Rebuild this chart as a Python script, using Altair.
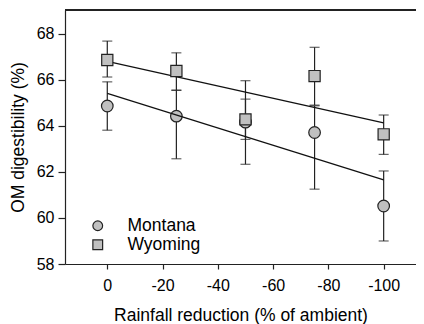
import altair as alt
import pandas as pd

reduction = [0, -25, -50, -75, -100]
montana_mean = [64.86, 64.42, 64.16, 63.71, 60.52]
montana_lo = [63.81, 62.57, 62.33, 61.25, 59.00]
montana_hi = [65.91, 65.55, 65.16, 64.87, 62.04]
wyoming_mean = [66.86, 66.38, 64.28, 66.16, 63.63]
wyoming_lo = [66.12, 65.54, 63.41, 64.90, 62.76]
wyoming_hi = [67.68, 67.17, 65.96, 67.41, 64.47]
x_ticks = [0, -20, -40, -60, -80, -100]
y_ticks = [58, 60, 62, 64, 66, 68]
sites = ["Montana", "Wyoming"]

rows = []
for site, m, lo, hi in [("Montana", montana_mean, montana_lo, montana_hi),
                        ("Wyoming", wyoming_mean, wyoming_lo, wyoming_hi)]:
    for x, a, b, c in zip(reduction, m, lo, hi):
        rows.append({"site": site, "x": x, "y": a, "lo": b, "hi": c})
df = pd.DataFrame(rows)

W, H = 351, 254
FONT = "Liberation Sans"

xscale = alt.Scale(domain=[-111.7, 15.3], reverse=True, nice=False, zero=False)
yscale = alt.Scale(domain=[58, 69.03], nice=False, zero=False)

xaxis = alt.Axis(values=x_ticks, title="Rainfall reduction (% of ambient)", grid=False,
                 tickSize=5, labelPadding=8, titlePadding=13, labelFontSize=16,
                 titleFontSize=17.5, format="d", titleFontWeight="normal",
                 labelExpr="replace(datum.label, '\u2212', '-')")
yaxis = alt.Axis(values=y_ticks, title="OM digestibility (%)", grid=False,
                 tickSize=7, labelPadding=4, titlePadding=9, labelFontSize=16,
                 titleFontSize=17.5, titleFontWeight="normal")

base = alt.Chart(df)
X = alt.X("x:Q", scale=xscale, axis=xaxis)

err = base.mark_rule(color="#222222", strokeWidth=1.2).encode(
    x=X, y=alt.Y("lo:Q", scale=yscale, axis=yaxis), y2="hi:Q")
cap_lo = base.mark_tick(color="#222222", thickness=1.2, size=10, orient="horizontal").encode(
    x="x:Q", y=alt.Y("lo:Q"))
cap_hi = base.mark_tick(color="#222222", thickness=1.2, size=10, orient="horizontal").encode(
    x="x:Q", y=alt.Y("hi:Q"))

leg = alt.Legend(title=None, orient="none", legendX=24, legendY=207,
                 symbolStrokeWidth=1.2, symbolSize=95, symbolOpacity=1,
                 labelFontSize=17.5, labelOffset=21, rowPadding=0,
                 labelColor="black", labelFont=FONT)
shape = alt.Shape("site:N", scale=alt.Scale(domain=sites, range=["circle", "square"]), legend=leg)
fill = alt.Fill("site:N", scale=alt.Scale(domain=sites, range=["#c0c0c0", "#c0c0c0"]), legend=leg)
stroke = alt.Stroke("site:N", scale=alt.Scale(domain=sites, range=["#222222", "#222222"]), legend=leg)

pts_m = base.transform_filter(alt.datum.site == "Montana").mark_point(
    filled=True, strokeWidth=1.2, opacity=1, fillOpacity=1, size=135).encode(
    x="x:Q", y="y:Q", shape=shape, fill=fill, stroke=stroke)
pts_w = base.transform_filter(alt.datum.site == "Wyoming").mark_point(
    filled=True, strokeWidth=1.2, opacity=1, fillOpacity=1, size=125).encode(
    x="x:Q", y="y:Q", shape=shape, fill=fill, stroke=stroke)

lines = base.transform_regression("x", "y", groupby=["site"]).mark_line(
    color="#111111", strokeWidth=1.3).encode(x="x:Q", y="y:Q", detail="site:N")

top = alt.Chart(df).mark_rule(color="#222222", strokeWidth=1.2).encode(
    x=alt.value(0), x2=alt.value(W), y=alt.value(0))

chart = alt.layer(err, cap_lo, cap_hi, pts_m, lines, pts_w, top).properties(
    width=W, height=H, padding={"left": 57, "top": 2, "right": 0, "bottom": 64},
    autosize=alt.AutoSizeParams(type="none")
).configure_view(stroke=None).configure_axis(
    domainColor="#222222", tickColor="#222222", labelColor="black", titleColor="black",
    labelFont=FONT, titleFont=FONT, domainWidth=1.2, tickWidth=1.2, titleFontWeight="normal"
)

chart.save("out.html", embed_options={"renderer": "svg", "actions": False})
